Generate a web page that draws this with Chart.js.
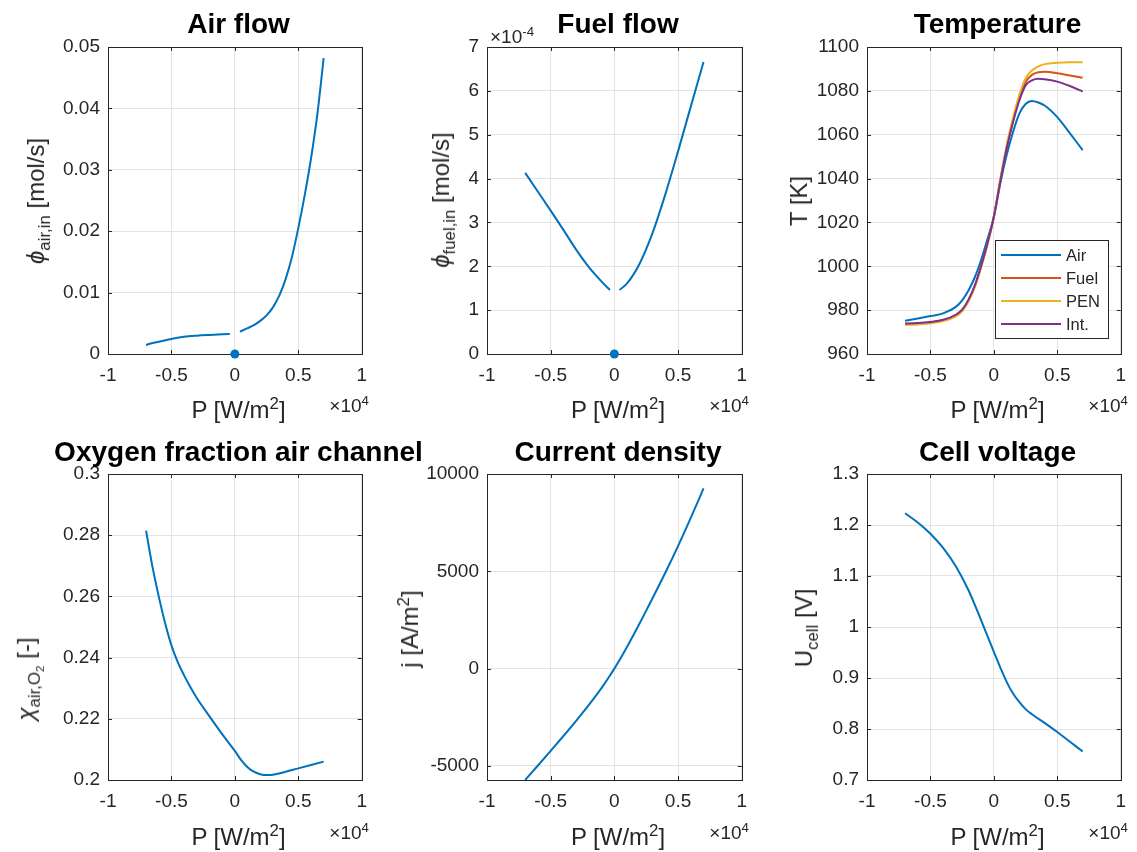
<!DOCTYPE html>
<html>
<head>
<meta charset="utf-8">
<script src="https://cdn.jsdelivr.net/npm/chart.js@4.4.1/dist/chart.umd.min.js"></script>
<style>
  body { margin: 0; width: 1137px; height: 852px; background: #fff; overflow: hidden; position: relative;
         font-family: "Liberation Sans", Arial, sans-serif; color: #262626; }
  canvas { position: absolute; }
  .t  { position: absolute; font-weight: bold; font-size: 28px; color: #000; line-height: 1; white-space: nowrap; transform: translateX(-50%); }
  .xl { position: absolute; font-size: 24px; line-height: 1; white-space: nowrap; transform: translateX(-50%); }
  .yl { position: absolute; font-size: 24px; line-height: 1; white-space: nowrap; transform: translate(-50%, -50%) rotate(-90deg); }
  .ex { position: absolute; font-size: 19px; line-height: 1; white-space: nowrap; }
  sub, sup { font-size: 0.7em; line-height: 0; }
</style>
</head>
<body>

<canvas id="c1"></canvas>
<canvas id="c2"></canvas>
<canvas id="c3"></canvas>
<canvas id="c4"></canvas>
<canvas id="c5"></canvas>
<canvas id="c6"></canvas>

<!-- titles -->
<div class="t" style="left:238.5px; top:10px">Air flow</div>
<div class="t" style="left:618px; top:10px">Fuel flow</div>
<div class="t" style="left:997.5px; top:10px">Temperature</div>
<div class="t" style="left:238.5px; top:438px">Oxygen fraction air channel</div>
<div class="t" style="left:618px; top:438px">Current density</div>
<div class="t" style="left:997.5px; top:438px">Cell voltage</div>

<!-- x labels -->
<div class="xl" style="left:238.5px; top:398px">P [W/m<sup>2</sup>]</div>
<div class="xl" style="left:618px; top:398px">P [W/m<sup>2</sup>]</div>
<div class="xl" style="left:997.5px; top:398px">P [W/m<sup>2</sup>]</div>
<div class="xl" style="left:238.5px; top:825px">P [W/m<sup>2</sup>]</div>
<div class="xl" style="left:618px; top:825px">P [W/m<sup>2</sup>]</div>
<div class="xl" style="left:997.5px; top:825px">P [W/m<sup>2</sup>]</div>

<!-- x exponents -->
<div class="ex" style="right:768px; top:396px">&times;10<sup>4</sup></div>
<div class="ex" style="right:388px; top:396px">&times;10<sup>4</sup></div>
<div class="ex" style="right:9px; top:396px">&times;10<sup>4</sup></div>
<div class="ex" style="right:768px; top:823px">&times;10<sup>4</sup></div>
<div class="ex" style="right:388px; top:823px">&times;10<sup>4</sup></div>
<div class="ex" style="right:9px; top:823px">&times;10<sup>4</sup></div>
<div class="ex" style="left:490px; top:27px">&times;10<sup>-4</sup></div>

<!-- y labels -->
<div class="yl" style="left:36px; top:201px"><i>ϕ</i><sub>air,in</sub> [mol/s]</div>
<div class="yl" style="left:441px; top:200px"><i>ϕ</i><sub>fuel,in</sub> [mol/s]</div>
<div class="yl" style="left:799px; top:201px">T [K]</div>
<div class="yl" style="left:27px; top:679px"><i>χ</i><sub>air,O<sub>2</sub></sub> [-]</div>
<div class="yl" style="left:410px; top:629px">j [A/m<sup>2</sup>]</div>
<div class="yl" style="left:804px; top:628px">U<sub>cell</sub> [V]</div>

<script>
// ---- data (P in W/m2) ----
const xTicks = [-10000, -5000, 0, 5000, 10000];
const xTickLabels = ['-1', '-0.5', '0', '0.5', '1'];

// air flow [mol/s], two branches around P = 0
const airP_neg = [-7000, -6500, -6000, -5000, -4000, -3000, -2000, -1000, -400];
const air_neg  = [0.00147, 0.0018, 0.0020, 0.00244, 0.0028, 0.00298, 0.0031, 0.0032, 0.00326];
const airP_pos = [400, 1000, 1500, 2000, 2500, 3000, 3500, 4000, 4500, 5000, 5500, 6000, 6500, 7000];
const air_pos  = [0.00365, 0.0042, 0.0047, 0.0054, 0.0063, 0.0076, 0.0095, 0.0122, 0.0158, 0.0205, 0.0258, 0.0318, 0.0390, 0.0482];
const airTicks = [0, 0.01, 0.02, 0.03, 0.04, 0.05];
const airTickLabels = ['0', '0.01', '0.02', '0.03', '0.04', '0.05'];

// fuel flow [mol/s]
const fuelP_neg = [-7000, -6000, -5000, -4000, -3000, -2000, -1000, -350];
const fuel_neg  = [4.13e-4, 3.70e-4, 3.27e-4, 2.83e-4, 2.38e-4, 1.98e-4, 1.65e-4, 1.46e-4];
const fuelP_pos = [400, 1000, 2000, 3000, 4000, 5000, 6000, 7000];
const fuel_pos  = [1.46e-4, 1.61e-4, 2.07e-4, 2.76e-4, 3.64e-4, 4.62e-4, 5.64e-4, 6.66e-4];
const fuelTicks = [0, 1e-4, 2e-4, 3e-4, 4e-4, 5e-4, 6e-4, 7e-4];
const fuelTickLabels = ['0', '1', '2', '3', '4', '5', '6', '7'];

// operating point marker
const markerP = [0];
const markerFlow = [0];

// temperatures [K]
const tempP    = [-7000, -6000, -5000, -4000, -3000, -2500, -2000, -1500, -1000, -500, 0, 500, 1000, 1500, 2000, 2500, 3000, 3500, 4000, 5000, 6000, 7000];
const tempAir  = [975.2, 976.2, 977.3, 978.5, 981.5, 984.5, 989.0, 995.0, 1003.0, 1012.5, 1022.6, 1037.5, 1050.5, 1061.0, 1069.5, 1074.0, 1075.4, 1074.7, 1073.3, 1068.0, 1060.6, 1053.0];
const tempFuel = [973.7, 973.9, 974.4, 975.3, 977.5, 979.8, 984.3, 991.0, 1000.0, 1010.5, 1022.6, 1039.0, 1054.0, 1066.0, 1076.5, 1084.0, 1087.3, 1088.5, 1088.7, 1088.0, 1087.0, 1086.0];
const tempPEN  = [973.2, 973.5, 974.0, 975.0, 977.2, 979.5, 984.0, 990.5, 999.5, 1010.0, 1022.6, 1039.5, 1055.0, 1067.5, 1078.0, 1085.7, 1089.3, 1091.2, 1092.2, 1092.8, 1093.0, 1093.0];
const tempInt  = [973.9, 974.1, 974.6, 975.6, 977.9, 980.2, 984.8, 991.3, 1000.3, 1010.5, 1022.6, 1038.5, 1053.5, 1065.5, 1075.5, 1082.5, 1084.8, 1085.5, 1085.3, 1084.2, 1082.2, 1079.7];
const tempTicks = [960, 980, 1000, 1020, 1040, 1060, 1080, 1100];
const tempTickLabels = ['960', '980', '1000', '1020', '1040', '1060', '1080', '1100'];

// oxygen fraction air channel [-]
const o2P = [-7000, -6500, -6000, -5500, -5000, -4500, -4000, -3500, -3000, -2000, -1000, 0, 500, 1000, 1500, 2000, 2500, 3000, 4000, 5000, 6000, 7000];
const o2  = [0.2815, 0.2698, 0.2600, 0.2513, 0.2440, 0.2385, 0.2342, 0.2303, 0.2268, 0.2208, 0.2150, 0.2095, 0.2065, 0.2042, 0.2027, 0.2019, 0.2016, 0.2017, 0.2027, 0.2038, 0.2049, 0.2060];
const o2Ticks = [0.2, 0.22, 0.24, 0.26, 0.28, 0.3];
const o2TickLabels = ['0.2', '0.22', '0.24', '0.26', '0.28', '0.3'];

// current density [A/m2]
const jP    = [-7000, -6000, -5000, -4000, -3000, -2000, -1000, -500, 0, 500, 1000, 1500, 2000, 2500, 3000, 4000, 5000, 6000, 7000];
const jVals = [-5724, -4979, -4227, -3463, -2681, -1866, -987, -509, 0, 543, 1120, 1724, 2345, 2980, 3619, 4926, 6297, 7742, 9259];
const jTicks = [-5000, 0, 5000, 10000];
const jTickLabels = ['-5000', '0', '5000', '10000'];

// cell voltage [V]
const uP    = [-7000, -6000, -5000, -4000, -3000, -2000, -1000, -500, 0, 500, 1000, 1500, 2000, 2500, 3000, 4000, 5000, 6000, 7000];
const uCell = [1.223, 1.205, 1.183, 1.155, 1.119, 1.072, 1.013, 0.982, 0.951, 0.921, 0.893, 0.870, 0.853, 0.839, 0.829, 0.812, 0.794, 0.775, 0.756];
const uTicks = [0.7, 0.8, 0.9, 1.0, 1.1, 1.2, 1.3];
const uTickLabels = ['0.7', '0.8', '0.9', '1', '1.1', '1.2', '1.3'];

// ---- styling ----
const INK = '#262626';
const GRID = '#e3e3e3';
const BLUE = '#0072BD', ORANGE = '#D95319', YELLOW = '#EDB120', PURPLE = '#7E2F8E';
Chart.defaults.font.family = '"Liberation Sans", Arial, sans-serif';
Chart.defaults.color = INK;

const pts = (xs, ys) => xs.map((x, i) => ({ x: x, y: ys[i] }));

function curve(xs, ys, color, label, order) {
  return { label: label || '', data: pts(xs, ys), borderColor: color, backgroundColor: color,
           borderWidth: 2, pointRadius: 0, fill: false, cubicInterpolationMode: 'monotone', order: order || 0 };
}
function marker(xs, ys) {
  return { data: pts(xs, ys), showLine: false, pointRadius: 4.5, pointBorderWidth: 0,
           pointBackgroundColor: BLUE, borderColor: BLUE, clip: false, order: -1 };
}

// box around the axes with inward ticks on all four sides (matlab style)
const framePlugin = {
  id: 'frame',
  beforeDatasetsDraw(chart) {
    const { ctx, chartArea: a, scales: { x, y } } = chart;
    ctx.save();
    ctx.strokeStyle = INK;
    ctx.lineWidth = 1;
    ctx.beginPath();
    x.ticks.forEach(t => {
      const px = Math.round(x.getPixelForValue(t.value)) + 0.5;
      ctx.moveTo(px, a.bottom); ctx.lineTo(px, a.bottom - 4);
      ctx.moveTo(px, a.top); ctx.lineTo(px, a.top + 4);
    });
    y.ticks.forEach(t => {
      const py = Math.round(y.getPixelForValue(t.value)) + 0.5;
      ctx.moveTo(a.left, py); ctx.lineTo(a.left + 4, py);
      ctx.moveTo(a.right, py); ctx.lineTo(a.right - 4, py);
    });
    ctx.stroke();
    ctx.strokeRect(Math.round(a.left) + 0.5, Math.round(a.top) + 0.5,
                   Math.round(a.right - a.left), Math.round(a.bottom - a.top));
    ctx.restore();
  }
};

// legend box inside the temperature axes
const boxLegend = {
  id: 'boxLegend',
  afterDatasetsDraw(chart) {
    const { ctx, chartArea: a } = chart;
    const w = 113, h = 98;
    const x0 = Math.round(a.right) - 13 - w, y0 = Math.round(a.bottom) - 16 - h;
    ctx.save();
    ctx.fillStyle = '#fff';
    ctx.fillRect(x0, y0, w, h);
    ctx.strokeStyle = INK;
    ctx.lineWidth = 1;
    ctx.strokeRect(x0 + 0.5, y0 + 0.5, w, h);
    ctx.font = '16.5px "Liberation Sans", Arial, sans-serif';
    ctx.textBaseline = 'middle';
    chart.data.datasets.forEach((ds, i) => {
      const yy = y0 + 15 + i * 23;
      ctx.strokeStyle = ds.borderColor;
      ctx.lineWidth = 2;
      ctx.beginPath();
      ctx.moveTo(x0 + 6, yy); ctx.lineTo(x0 + 66, yy);
      ctx.stroke();
      ctx.fillStyle = INK;
      ctx.fillText(ds.label, x0 + 71, yy + 1);
    });
    ctx.restore();
  }
};

const LEFT_W = 100, TOP_PAD = 20, RIGHT_PAD = 8, BOTTOM_H = 45;

function makePanel(id, box, datasets, yMin, yMax, yTicks, yTickLabels, extraPlugins) {
  const cv = document.getElementById(id);
  cv.width = box.r - box.l + LEFT_W + RIGHT_PAD;
  cv.height = box.b - box.t + TOP_PAD + BOTTOM_H;
  cv.style.left = (box.l - LEFT_W) + 'px';
  cv.style.top = (box.t - TOP_PAD) + 'px';

  return new Chart(cv.getContext('2d'), {
    type: 'line',
    data: { datasets: datasets },
    options: {
      responsive: false,
      animation: false,
      events: [],
      layout: { padding: { top: TOP_PAD, right: RIGHT_PAD, left: 0, bottom: 0 } },
      plugins: { legend: { display: false }, tooltip: { enabled: false }, title: { display: false } },
      scales: {
        x: {
          type: 'linear', min: -10000, max: 10000,
          afterBuildTicks: s => { s.ticks = xTicks.map(v => ({ value: v })); },
          afterFit: s => { s.height = BOTTOM_H; },
          grid: { color: GRID, lineWidth: 1, drawTicks: false },
          border: { display: false },
          ticks: { padding: 10, color: INK, font: { size: 19 }, maxRotation: 0, autoSkip: false,
                   callback: (v, i) => xTickLabels[i] }
        },
        y: {
          type: 'linear', min: yMin, max: yMax,
          afterBuildTicks: s => { s.ticks = yTicks.map(v => ({ value: v })); },
          afterFit: s => { s.width = LEFT_W; },
          grid: { color: GRID, lineWidth: 1, drawTicks: false },
          border: { display: false },
          ticks: { padding: 8, color: INK, font: { size: 19 }, autoSkip: false,
                   callback: (v, i) => yTickLabels[i] }
        }
      }
    },
    plugins: [framePlugin].concat(extraPlugins || [])
  });
}

makePanel('c1', { l: 108, t: 47, r: 369, b: 354 },
  [curve(airP_neg, air_neg, BLUE), curve(airP_pos, air_pos, BLUE), marker(markerP, markerFlow)],
  0, 0.05, airTicks, airTickLabels);

makePanel('c2', { l: 487, t: 47, r: 749, b: 354 },
  [curve(fuelP_neg, fuel_neg, BLUE), curve(fuelP_pos, fuel_pos, BLUE), marker(markerP, markerFlow)],
  0, 7e-4, fuelTicks, fuelTickLabels);

makePanel('c3', { l: 867, t: 47, r: 1128, b: 354 },
  [curve(tempP, tempAir, BLUE, 'Air', 3),
   curve(tempP, tempFuel, ORANGE, 'Fuel', 2),
   curve(tempP, tempPEN, YELLOW, 'PEN', 1),
   curve(tempP, tempInt, PURPLE, 'Int.', 0)],
  960, 1100, tempTicks, tempTickLabels, [boxLegend]);

makePanel('c4', { l: 108, t: 474, r: 369, b: 780 },
  [curve(o2P, o2, BLUE)], 0.2, 0.3, o2Ticks, o2TickLabels);

makePanel('c5', { l: 487, t: 474, r: 749, b: 780 },
  [curve(jP, jVals, BLUE)], -5724, 10000, jTicks, jTickLabels);

makePanel('c6', { l: 867, t: 474, r: 1128, b: 780 },
  [curve(uP, uCell, BLUE)], 0.7, 1.3, uTicks, uTickLabels);
</script>
</body>
</html>
